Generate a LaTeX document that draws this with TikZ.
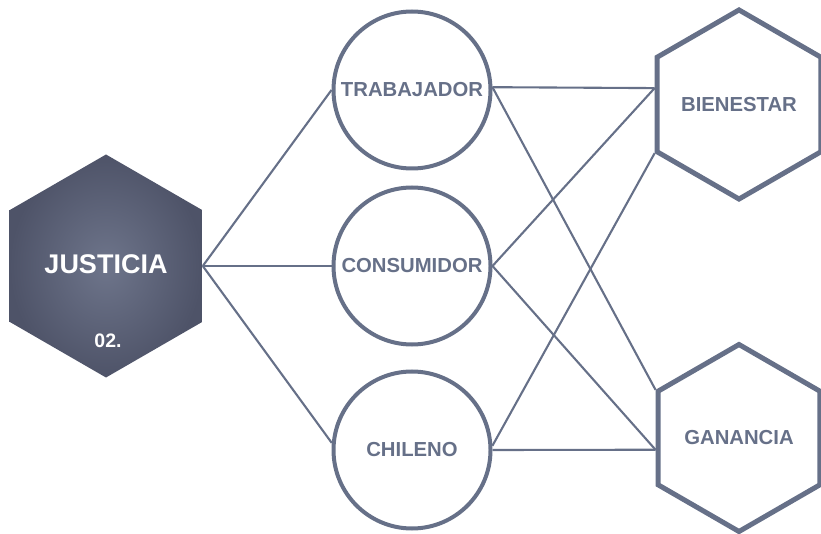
\documentclass[tikz,border=0pt]{standalone}
\usepackage{fontspec}
\setmainfont{Liberation Sans}
\usetikzlibrary{shapes.geometric}
\definecolor{slate}{RGB}{102,112,136}
\definecolor{hexin}{RGB}{110,117,139}
\definecolor{hexout}{RGB}{78,83,104}
\begin{document}
\begin{tikzpicture}[x=1pt,y=1pt,
  hexa/.style={regular polygon, regular polygon sides=6, shape border rotate=30, inner sep=0pt, minimum size=#1},
  lab/.style={text=slate, font=\bfseries\fontsize{20.3}{21}\selectfont},
  circ/.style={circle, draw=slate, line width=4pt, minimum size=157pt, inner sep=0pt, lab},
  outhex/.style={hexa=187pt, draw=slate, line width=5pt, lab},
  conn/.style={draw=slate, line width=2.1pt}]
\useasboundingbox (0,0) rectangle (821,533);
% left hexagon
\node[hexa=223pt, shading=radial, inner color=hexin, outer color=hexout] (jus) at (106,267) {};
\node[text=white, font=\bfseries\fontsize{27}{28}\selectfont] (jl) at (106,269) {JUSTICIA};
\node[text=white, font=\bfseries\fontsize{19.5}{20}\selectfont] (jn) at (108,192) {02.};
% circles
\node[circ] (tra) at (412,443) {TRABAJADOR};
\node[circ] (con) at (412,267) {CONSUMIDOR};
\node[circ] (chi) at (412,83) {CHILENO};
% right hexagons
\node[outhex] (bien) at (739,428.5) {BIENESTAR};
\node[outhex] (gan) at (739,95) {GANANCIA};
% connectors
\draw[conn] (jus.east) -- (tra.west);
\draw[conn] (jus.east) -- (con.west);
\draw[conn] (jus.east) -- (chi.175);
\draw[conn] (tra.2) -- (bien.169);
\draw[conn] (tra.2) -- (gan.150);
\draw[conn] (con.east) -- (bien.169);
\draw[conn] (con.east) -- (gan.188);
\draw[conn] (chi.3) -- (bien.210);
\draw[conn] (chi.east) -- (gan.188);
\end{tikzpicture}
\end{document}
